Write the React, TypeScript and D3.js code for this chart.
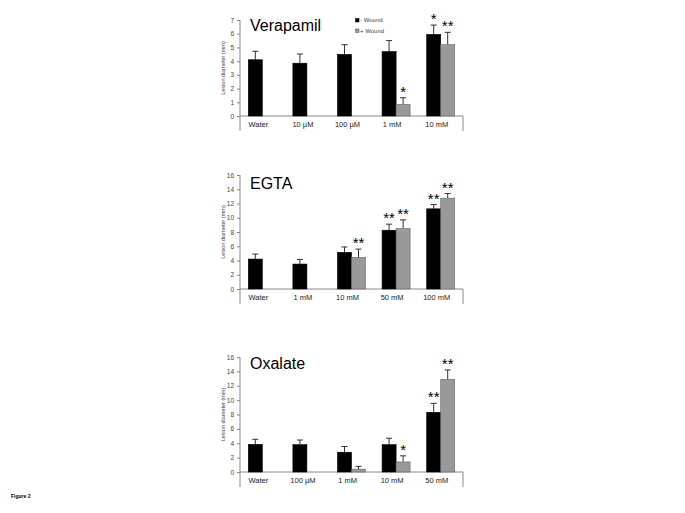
import React, { useEffect, useRef } from 'react'
import * as d3 from 'd3'

// panel titles and categories
const titles = ['Verapamil', 'EGTA', 'Oxalate']
const verapamilCats = ['Water', '10 \u00b5M', '100 \u00b5M', '1 mM', '10 mM']
const egtaCats = ['Water', '1 mM', '10 mM', '50 mM', '100 mM']
const oxalateCats = ['Water', '100 \u00b5M', '1 mM', '10 mM', '50 mM']

// - Wound (black) / + Wound (grey), mean and error
const verapamilMinus = [4.1, 3.85, 4.5, 4.7, 5.95]
const verapamilMinusErr = [0.62, 0.67, 0.7, 0.8, 0.68]
const verapamilPlus = [null, null, null, 0.85, 5.2]
const verapamilPlusErr = [0, 0, 0, 0.48, 0.9]
const verapamilMinusSig = ['', '', '', '', '*']
const verapamilPlusSig = ['', '', '', '*', '**']

const egtaMinus = [4.2, 3.5, 5.15, 8.25, 11.25]
const egtaMinusErr = [0.7, 0.65, 0.75, 0.85, 0.6]
const egtaPlus = [null, null, 4.45, 8.5, 12.75]
const egtaPlusErr = [0, 0, 1.15, 1.2, 0.65]
const egtaMinusSig = ['', '', '', '**', '**']
const egtaPlusSig = ['', '', '**', '**', '**']

const oxalateMinus = [3.85, 3.8, 2.75, 3.8, 8.3]
const oxalateMinusErr = [0.7, 0.65, 0.8, 0.9, 1.25]
const oxalatePlus = [null, null, 0.4, 1.4, 12.9]
const oxalatePlusErr = [0, 0, 0.38, 0.85, 1.3]
const oxalateMinusSig = ['', '', '', '', '**']
const oxalatePlusSig = ['', '', '', '*', '**']

const verapamilTicks = [0, 1, 2, 3, 4, 5, 6, 7]
const egtaTicks = [0, 2, 4, 6, 8, 10, 12, 14, 16]
const oxalateTicks = [0, 2, 4, 6, 8, 10, 12, 14, 16]

const legendLabels = ['- Wound', '+ Wound']

const FONT = 'Liberation Sans, Arial, sans-serif'

interface Panel {
  title: string
  cats: string[]
  minus: number[]
  minusErr: number[]
  plus: (number | null)[]
  plusErr: number[]
  minusSig: string[]
  plusSig: string[]
  ticks: number[]
  y0: number
  yTop: number
  titleY: number
  legend: boolean
}

const panels: Panel[] = [
  {
    title: titles[0], cats: verapamilCats, minus: verapamilMinus, minusErr: verapamilMinusErr,
    plus: verapamilPlus, plusErr: verapamilPlusErr, minusSig: verapamilMinusSig, plusSig: verapamilPlusSig,
    ticks: verapamilTicks, y0: 116, yTop: 20, titleY: 31, legend: true,
  },
  {
    title: titles[1], cats: egtaCats, minus: egtaMinus, minusErr: egtaMinusErr,
    plus: egtaPlus, plusErr: egtaPlusErr, minusSig: egtaMinusSig, plusSig: egtaPlusSig,
    ticks: egtaTicks, y0: 289, yTop: 175, titleY: 189, legend: false,
  },
  {
    title: titles[2], cats: oxalateCats, minus: oxalateMinus, minusErr: oxalateMinusErr,
    plus: oxalatePlus, plusErr: oxalatePlusErr, minusSig: oxalateMinusSig, plusSig: oxalatePlusSig,
    ticks: oxalateTicks, y0: 472, yTop: 357, titleY: 369, legend: false,
  },
]

const App = () => {
  const refSvg = useRef(null)

  const draw = () => {
    const svg = d3.select(refSvg.current)
    svg.selectAll('*').remove()
    svg.append('rect').attr('width', 685).attr('height', 513).attr('fill', '#fff')

    const xLeft = 240
    const xRight = 463
    const barW = 14

    panels.forEach((p) => {
      const g = svg.append('g')
      const x = d3.scaleBand().domain(p.cats).range([xLeft, xRight]).padding(0)
      const maxT = p.ticks[p.ticks.length - 1]
      const y = d3.scaleLinear().domain([0, maxT]).range([p.y0, p.yTop])

      // title
      g.append('text').attr('x', 250).attr('y', p.titleY).attr('font-family', FONT)
        .attr('font-size', 16).attr('fill', '#000').text(p.title)

      // y axis
      const yAxis = g.append('g').attr('transform', `translate(${xLeft},0)`)
        .call(d3.axisLeft(y).tickValues(p.ticks).tickFormat(d3.format('d')).tickSize(3).tickPadding(3))
      yAxis.select('.domain').remove()
      yAxis.selectAll('line').attr('stroke', '#888')
      yAxis.selectAll('text').attr('font-family', FONT).attr('font-size', 6.5).attr('fill', '#444')
      g.append('line').attr('x1', xLeft).attr('x2', xLeft).attr('y1', p.yTop).attr('y2', p.y0 + 15)
        .attr('stroke', '#888')

      // x axis
      g.append('line').attr('x1', xLeft).attr('x2', xRight).attr('y1', p.y0).attr('y2', p.y0).attr('stroke', '#888')
      g.append('line').attr('x1', xRight).attr('x2', xRight).attr('y1', p.y0).attr('y2', p.y0 + 15).attr('stroke', '#888')
      g.selectAll('.cat').data(p.cats).enter().append('text')
        .attr('x', (d) => (x(d) || 0) + x.bandwidth() / 2 - 4)
        .attr('y', p.y0 + 11)
        .attr('text-anchor', 'middle').attr('font-family', FONT).attr('font-size', 7.5).attr('fill', '#222')
        .text((d) => d)

      // y label
      const midY = (p.y0 + p.yTop) / 2
      g.append('text').attr('transform', `translate(225,${midY}) rotate(-90)`)
        .attr('text-anchor', 'middle').attr('font-family', FONT).attr('font-size', 5.5).attr('fill', '#444')
        .text('Lesion diameter (mm)')

      const series = [
        { vals: p.minus, err: p.minusErr, sig: p.minusSig, off: -barW, fill: '#000', stroke: '#000' },
        { vals: p.plus, err: p.plusErr, sig: p.plusSig, off: 0, fill: '#999', stroke: '#666' },
      ]
      series.forEach((s) => {
        p.cats.forEach((c, i) => {
          const v = s.vals[i]
          if (v === null || v === undefined) return
          const cx = (x(c) || 0) + x.bandwidth() / 2 + s.off
          const mid = cx + barW / 2
          const capY = y(v + s.err[i])
          // error bar
          g.append('line').attr('x1', mid).attr('x2', mid).attr('y1', y(v)).attr('y2', capY).attr('stroke', '#333')
          g.append('line').attr('x1', mid - 3).attr('x2', mid + 3).attr('y1', capY).attr('y2', capY).attr('stroke', '#333')
          g.append('rect').attr('x', cx).attr('y', y(v)).attr('width', barW).attr('height', p.y0 - y(v))
            .attr('fill', s.fill).attr('stroke', s.stroke).attr('stroke-width', 0.6)
          if (s.sig[i]) {
            g.append('text').attr('x', mid).attr('y', capY - 1).attr('text-anchor', 'middle')
              .attr('font-family', FONT).attr('font-size', 15).attr('fill', '#000').text(s.sig[i])
          }
        })
      })

      if (p.legend) {
        const colors = ['#000', '#999']
        legendLabels.forEach((l, i) => {
          const ly = 22 + i * 10.5
          g.append('rect').attr('x', 355.5).attr('y', ly - 3.5).attr('width', 3.5).attr('height', 3.5)
            .attr('fill', colors[i]).attr('stroke', i ? '#555' : '#000').attr('stroke-width', 0.5)
          g.append('text').attr('x', 360).attr('y', ly).attr('font-family', FONT).attr('font-size', 6)
            .attr('fill', '#444').text(l)
        })
      }
    })

    svg.append('text').attr('x', 11).attr('y', 498).attr('font-family', FONT).attr('font-size', 5)
      .attr('font-weight', 'bold').attr('fill', '#000').text('Figure 2')
  }

  useEffect(() => {
    if (refSvg) {
      draw()
    }
  })

  return (
    <svg ref={refSvg} width={685} height={513} style={{ position: 'absolute', left: 0, top: 0 }} />
  )
}

export default App
